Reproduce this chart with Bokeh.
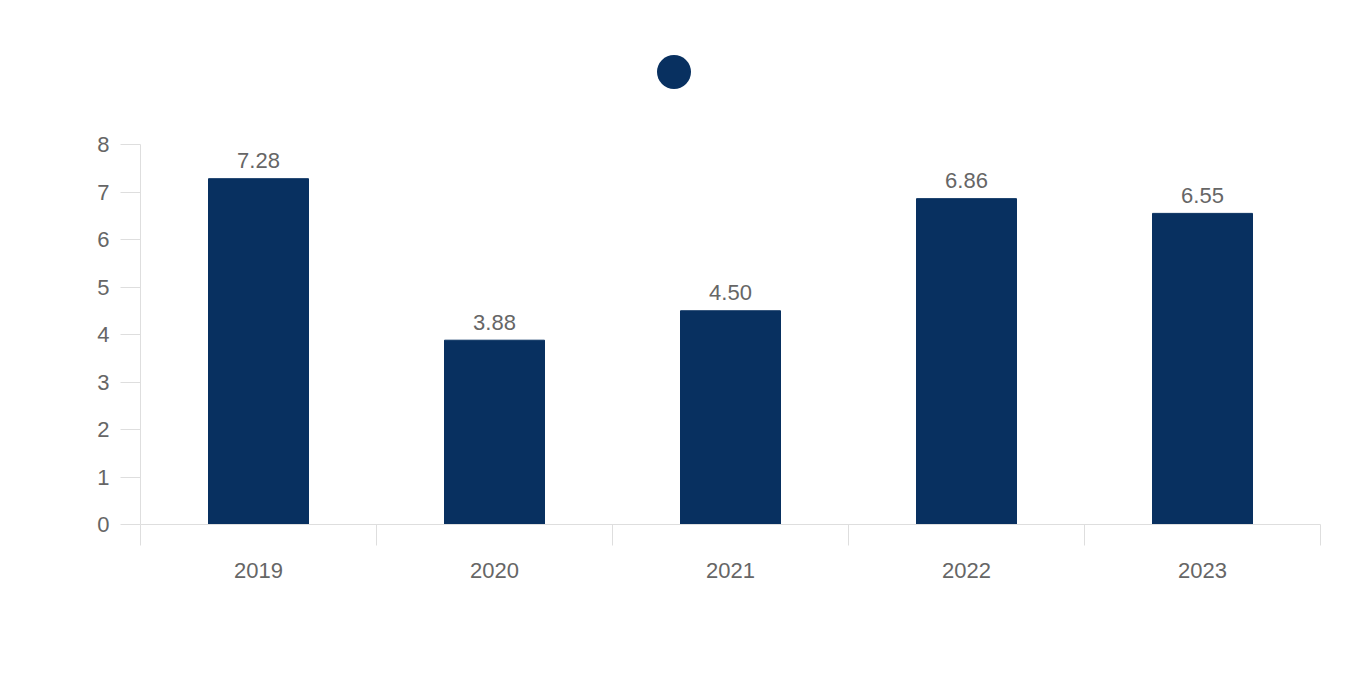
from bokeh.plotting import figure
from bokeh.models import (ColumnDataSource, FixedTicker, Range1d, Legend, LegendItem)
from bokeh.core.properties import value
from bokeh.embed import file_html
from bokeh.resources import INLINE

years = ["2019", "2020", "2021", "2022", "2023"]
values = [7.28, 3.88, 4.50, 6.86, 6.55]
y_ticks = [0, 1, 2, 3, 4, 5, 6, 7, 8]

BAR = "#083060"
TXT = "#666666"
LINE = "#dedede"
FONT = "Liberation Sans"
FS = "22px"

xs = [i + 0.5 for i in range(len(years))]
src = ColumnDataSource(dict(x=xs, top=values, lab=[f"{v:.2f}" for v in values]))

# frame spans page y 20..524; value axis 0..8 occupies 144..524
Y_TOP = 8 * (524 - 20) / (524 - 144)

p = figure(width=1352, height=668, output_backend="svg", toolbar_location=None,
           x_range=Range1d(0, len(years)), y_range=Range1d(0, Y_TOP))
p.min_border_left = 140
p.min_border_right = 32
p.min_border_top = 20
p.min_border_bottom = 144
p.outline_line_color = None
p.xgrid.visible = False
p.ygrid.visible = False
# hidden range used only so the legend marker has a glyph that stays off the frame
p.extra_y_ranges = {"hidden": Range1d(1000, 1001)}

r = p.vbar(x="x", top="top", width=100 / 236, source=src, color=BAR)
p.text(x="x", y="top", text="lab", source=src, text_align="center",
       text_baseline="alphabetic", y_offset=-18, text_color=TXT,
       text_font=value(FONT), text_font_size=FS)

# y axis
ya = p.yaxis[0]
ya.ticker = FixedTicker(ticks=y_ticks)
ya.bounds = (0, 8)
ya.axis_line_color = LINE
ya.major_tick_line_color = LINE
ya.major_tick_out = 20
ya.major_tick_in = 0
ya.minor_tick_line_color = None
ya.major_label_standoff = 11
ya.major_label_text_color = TXT
ya.major_label_text_font = FONT
ya.major_label_text_font_size = FS

# x axis: labels at category centres, ticks at boundaries
xa = p.xaxis[0]
xa.ticker = FixedTicker(ticks=xs, minor_ticks=list(range(len(years) + 1)))
xa.major_label_overrides = {x: y for x, y in zip(xs, years)}
xa.axis_line_color = LINE
xa.major_tick_line_color = None
xa.major_tick_out = 0
xa.major_tick_in = 0
xa.minor_tick_line_color = LINE
xa.minor_tick_out = 21
xa.minor_tick_in = 0
xa.major_label_standoff = 17
xa.major_label_text_color = TXT
xa.major_label_text_font = FONT
xa.major_label_text_font_size = FS

# legend marker
dot = p.scatter(x="x", y="top", source=src, size=34, color=BAR, line_color=None,
                y_range_name="hidden")
legend = Legend(items=[LegendItem(label=" ", renderers=[dot], index=0)],
                location=(491, 410), glyph_width=85, glyph_height=85,
                label_width=0, label_standoff=0, label_height=0, padding=0, margin=0,
                spacing=0, border_line_color=None, background_fill_alpha=0,
                label_text_font_size="1px")
p.add_layout(legend, "center")

open("out.html", "w").write(file_html(p, INLINE))
